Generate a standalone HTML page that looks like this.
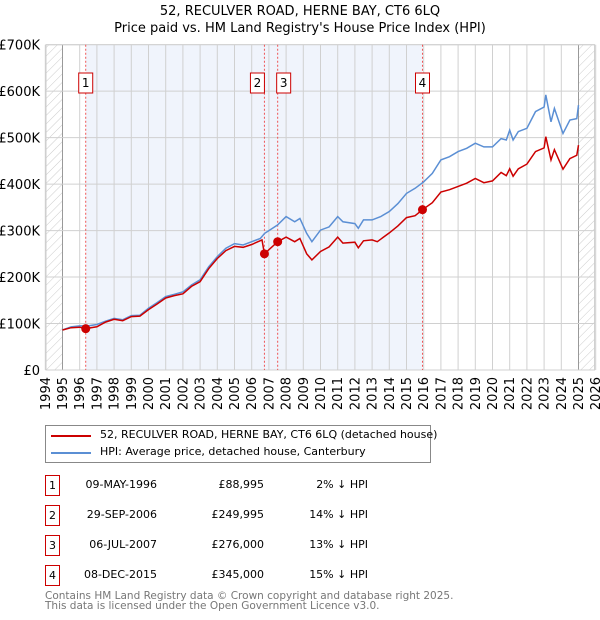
<!DOCTYPE html>
<html><head><meta charset="utf-8"><style>
body{margin:0;background:#fff;font-family:"DejaVu Sans","Liberation Sans",sans-serif;}
#wrap{position:relative;width:600px;height:620px;overflow:hidden}
.t{position:absolute;white-space:nowrap;font-size:11px;color:#000}
.box{position:absolute;border:1px solid #c00;width:13px;height:19px;font-size:11px;text-align:center;line-height:19px}
</style></head><body>
<div id="wrap">
<div class="t" style="left:0;width:600px;text-align:center;top:4px;font-size:13px">52, RECULVER ROAD, HERNE BAY, CT6 6LQ</div>
<div class="t" style="left:0;width:600px;text-align:center;top:21px;font-size:13px">Price paid vs. HM Land Registry's House Price Index (HPI)</div>
<svg id="chart" width="600" height="410" style="position:absolute;left:0;top:0"></svg>
<div style="position:absolute;left:45px;top:425px;width:384px;height:36px;border:1px solid #888">
 <div style="position:absolute;left:5px;top:9px;width:40px;height:2px;background:#c00"></div>
 <div class="t" style="left:54px;top:2px">52, RECULVER ROAD, HERNE BAY, CT6 6LQ (detached house)</div>
 <div style="position:absolute;left:5px;top:26px;width:40px;height:2px;background:#5b8fd4"></div>
 <div class="t" style="left:54px;top:19px">HPI: Average price, detached house, Canterbury</div>
</div>
<div id="rows"></div>
<div class="t" style="left:45px;top:590px;color:#777;font-size:10.5px">Contains HM Land Registry data © Crown copyright and database right 2025.</div>
<div class="t" style="left:45px;top:600px;color:#777;font-size:10.5px">This data is licensed under the Open Government Licence v3.0.</div>
</div>
<script>
const hpiX=[1995,1995.5,1996,1996.5,1997,1997.5,1998,1998.5,1999,1999.5,2000,2000.5,2001,2001.5,2002,2002.5,2003,2003.5,2004,2004.5,2005,2005.5,2006,2006.5,2006.75,2007.5,2008,2008.5,2008.8,2009.2,2009.5,2010,2010.5,2011,2011.3,2012,2012.2,2012.5,2013,2013.5,2014,2014.5,2015,2015.5,2016,2016.5,2017,2017.5,2018,2018.5,2019,2019.5,2020,2020.5,2020.8,2021,2021.2,2021.5,2022,2022.5,2023,2023.1,2023.4,2023.6,2024.1,2024.5,2024.9,2025];
const hpiY=[86,93,95,95,98,105,111,108,117,118,133,145,158,163,168,183,194,222,244,262,272,269,276,283,294,312,330,319,326,294,276,301,308,330,319,315,305,323,323,330,341,358,380,391,405,423,452,459,470,477,488,480,480,498,495,516,495,513,520,556,566,592,534,563,509,538,541,570];
const redX=[1995,1995.5,1996,1996.35,1997,1997.5,1998,1998.5,1999,1999.5,2000,2000.5,2001,2001.5,2002,2002.5,2003,2003.5,2004,2004.5,2005,2005.5,2006,2006.6,2006.74,2007.51,2008,2008.5,2008.8,2009.2,2009.5,2010,2010.5,2011,2011.3,2012,2012.2,2012.5,2013,2013.3,2014,2014.5,2015,2015.5,2015.93,2016.5,2017,2017.5,2018,2018.5,2019,2019.5,2020,2020.5,2020.8,2021,2021.2,2021.5,2022,2022.5,2023,2023.1,2023.4,2023.6,2024.1,2024.5,2024.9,2025];
const redY=[86,91,92,89,93,103,109,106,115,116,130,142,155,160,164,180,190,218,240,257,266,264,270,280,250,276,286,276,283,250,237,255,265,286,273,275,263,278,280,276,295,310,328,332,345,360,383,388,395,402,412,403,407,425,418,433,417,433,443,470,478,502,452,474,432,455,462,484];
const saleLabels=["1","2","3","4"];
const saleX=[1996.35,2006.74,2007.51,2015.93];
const saleY=[88.995,249.995,276,345];
const saleDates=["09-MAY-1996","29-SEP-2006","06-JUL-2007","08-DEC-2015"];
const salePrices=["£88,995","£249,995","£276,000","£345,000"];
const saleDiffs=["2% ↓ HPI","14% ↓ HPI","13% ↓ HPI","15% ↓ HPI"];
const yTicks=[0,100,200,300,400,500,600,700];
const yTickLabels=["£0","£100K","£200K","£300K","£400K","£500K","£600K","£700K"];
const xYears=[1994,1995,1996,1997,1998,1999,2000,2001,2002,2003,2004,2005,2006,2007,2008,2009,2010,2011,2012,2013,2014,2015,2016,2017,2018,2019,2020,2021,2022,2023,2024,2025,2026];

const L=46,R=594.6,T=44.7,B=370;
const X=v=>62.5+(v-1995)*(578.5-62.5)/30;
const Y=v=>B-v*(B-T)/700;
const svg=document.getElementById('chart');const NS='http://www.w3.org/2000/svg';
function mk(tag,at,parent){const e=document.createElementNS(NS,tag);for(const k in at)e.setAttribute(k,at[k]);(parent||svg).appendChild(e);return e;}
const defs=mk('defs',{});
const pat=mk('pattern',{id:'hatch',width:6,height:6,patternUnits:'userSpaceOnUse',patternTransform:'rotate(45)'},defs);
mk('line',{x1:0,y1:0,x2:0,y2:6,stroke:'#ccc','stroke-width':1},pat);
let e;
e=mk('rect',{x:L,y:T,width:R-L,height:B-T,fill:'#fff',stroke:'#ccc'});

e=mk('rect',{x:X(saleX[0]),y:T,width:X(saleX[3])-X(saleX[0]),height:B-T,fill:'#f0f4fc'});

e=mk('rect',{x:L,y:T,width:X(1995)-L,height:B-T,fill:'url(#hatch)'});

e=mk('rect',{x:X(2025),y:T,width:R-X(2025),height:B-T,fill:'url(#hatch)'});

xYears.forEach(yr=>{
 const x=X(yr);
 e=mk('line',{x1:x,y1:T,x2:x,y2:B,stroke:(yr==1995||yr==2025)?'#999':'#d0d0d0','stroke-width':1});
 
 e=mk('text',{x:0,y:0,transform:`translate(${x+4.5},377) rotate(-90)`,'text-anchor':'end','font-size':13,fill:'#000'});
 e.textContent=yr;
});
yTicks.forEach((v,i)=>{
 e=mk('line',{x1:L,y1:Y(v),x2:R,y2:Y(v),stroke:'#d0d0d0'});
 
 e=mk('text',{x:L-6,y:Y(v)+5,'text-anchor':'end','font-size':13,fill:'#000'});
 e.textContent=yTickLabels[i];
});
saleX.forEach((s,i)=>{
 e=mk('line',{x1:X(s),y1:T,x2:X(s),y2:B,stroke:'#e55','stroke-dasharray':'2,2','stroke-width':1});
 
});
const pts=(xs,ys)=>xs.map((x,i)=>X(x).toFixed(1)+','+Y(ys[i]).toFixed(1)).join(' ');
e=mk('polyline',{points:pts(hpiX,hpiY),fill:'none',stroke:'#5b8fd4','stroke-width':1.5});

e=mk('polyline',{points:pts(redX,redY),fill:'none',stroke:'#c00','stroke-width':1.5});

saleX.forEach((s,i)=>{
 e=mk('circle',{cx:X(s),cy:Y(saleY[i]),r:4.5,fill:'#c00'});
 
 const bx=(i==1)?X(s)-14:(i==2?X(s)-1:X(s)-7);
 e=mk('rect',{x:bx,y:73,width:14,height:20,fill:'#fff',stroke:'#c00'});
 
 e=mk('text',{x:bx+7,y:87,'text-anchor':'middle','font-size':12});
 e.textContent=saleLabels[i];
});
const rows=document.getElementById('rows');
saleLabels.forEach((lab,i)=>{
 const top=475+i*30;
 const r=document.createElement('div');
 
 
 r.innerHTML=`<div class="box" style="left:45px;top:${top}px">${lab}</div>
 <div class="t" style="left:60px;width:97px;text-align:right;top:${top+3}px">${saleDates[i]}</div>
 <div class="t" style="left:170px;width:94px;text-align:right;top:${top+3}px">${salePrices[i]}</div>
 <div class="t" style="left:280px;width:88px;text-align:right;top:${top+3}px">${saleDiffs[i]}</div>`;
 rows.appendChild(r);
});
</script>
</body></html>
